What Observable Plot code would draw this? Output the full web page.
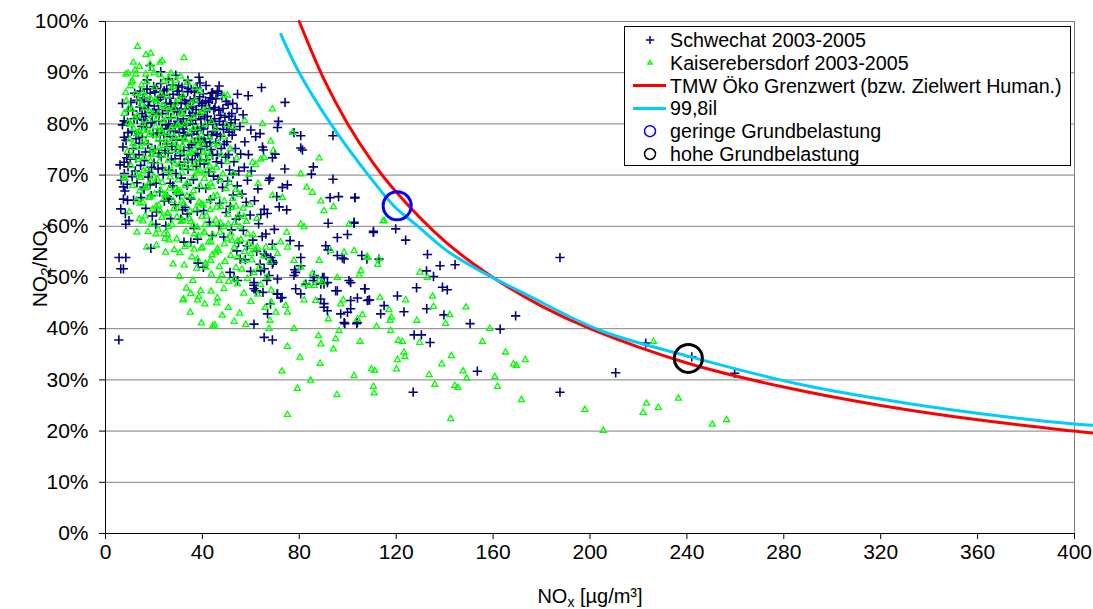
<!DOCTYPE html>
<html><head><meta charset="utf-8">
<script src="https://cdn.jsdelivr.net/npm/d3@7"></script>
<script src="https://cdn.jsdelivr.net/npm/@observablehq/plot@0.6"></script>
<style>body{margin:0;background:#fff;}#chart svg{display:block;}</style>
</head><body><div id="chart"></div>
<script>
const xTicks = [0,40,80,120,160,200,240,280,320,360,400];
const yTicks = [0,10,20,30,40,50,60,70,80,90,100];
const legendLabels = ["Schwechat 2003-2005","Kaiserebersdorf 2003-2005","TMW Öko Grenzwert (bzw. Zielwert Human.)","99,8il","geringe Grundbelastung","hohe Grundbelastung"];

// [NOx µg/m³, NO2/NOx %]
const schwechatOutliers = [
[5.5,37.8],[5.6,53.9],[8.4,53.9],[6.3,51.7],[7.4,51.7],
[18.4,91.4],[22.8,90.2],[38.6,89.1],[46.9,87.4],[46.2,86.4],[44.2,86.1],[54.5,85.8],[58.9,85.5],[64.4,87.1],[74.1,84.2],
[77.8,78.3],[80.6,77.7],[93.9,77.7],[80.6,75.3],[81.3,74.9],[85.8,71.6],[85.0,70.2],[93.9,69.2],[92.7,65.6],[96.2,65.8],[103.0,65.6],[110.6,58.8],[102.6,60.6],[91.9,60.6],[95.7,57.8],[99.9,58.4],
[71.0,79.3],[71.4,80.5],[63.8,78.1],[62.0,77.5],[60.0,78.8],[64.8,75.5],[65.2,74.9],[70.0,74.1],[68.9,73.4],[74.0,71.2],[67.9,69.4],[67.5,69.0],[75.1,68.1],[73.0,67.6],[70.7,65.8],[71.7,63.8],[74.8,63.2],[65.5,63.3],[64.1,62.3],[66.2,58.5],[68.9,56.5],[76.2,57.2],[79.9,56.2],[80.6,52.3],[78.1,51.5],[90.9,56.2],[91.9,55.4],[95.7,54.3],[98.5,53.6],[85.8,49.4],[90.2,48.7],[95.7,47.4],[100.5,49.4],[107.0,47.8],
[7.7,80.6],[9.1,80.3],[7.0,79.8],[9.3,78.3],[7.7,77.4],[7.7,72.5],[8.8,73.4],[9.3,71.6],[7.4,67.7],[8.0,66.9],[7.4,65.3],[9.1,65.1],[11.6,65.1],[6.3,63.4],[8.4,60.4],[9.7,61.1],[18.7,55.7],[20.8,60.4],[24.9,60.1],[14.6,65.6],[15.7,67.6],[18.4,68.1],[26.2,65.3],[29.4,66.6],[26.7,68.4],[31.8,63.2],[33.8,62.4],[31.1,61.4],[32.4,56.9],[35.2,56.9],[38.0,57.5],[40.4,52.0],[38.2,52.8],[51.4,51.0],[53.1,50.0],[54.5,49.4],[55.6,53.6],[54.2,55.2],[65.5,51.7],[66.6,49.4],[68.9,53.3],[61.3,49.0],[62.3,47.4],[71.0,46.8],[72.3,46.0],[78.5,47.8],[82.7,48.7],[80.6,46.8],[88.8,45.8],[90.2,44.9],[101.2,45.5],[104.0,46.0],[109.0,45.6],[115.0,44.5],
[187.6,53.9],[132.9,54.5],[138.1,52.3],[144.3,52.5],[105.8,54.3],[97.8,53.8],[80.6,53.9],[132.5,51.3],[135.4,50.2],[139.1,48.1],[141.1,47.6],[128.4,48.0],[120.5,46.4],[123.2,43.3],[132.6,43.9],[139.7,42.7],[150.5,41.0],[169.3,42.5],[162.9,39.9],[127.4,38.8],[130.4,38.8],[134.0,37.3],[113.6,42.9],[107.1,47.8],[101.2,49.0],[90.2,44.2],[98.8,41.0],[103.7,41.0],[108.1,45.5],[99.9,43.2],[86.1,50.0],[90.2,50.0],[78.5,51.0],[70.9,46.8],[72.9,46.1],[66.9,42.9],[61.3,40.9],[65.5,38.3],[68.9,37.8],[153.5,31.7],[127.0,27.6],[187.6,27.6],[210.6,31.4],[223.0,37.2],[242.0,34.5],[259.7,31.3],
[61.3,47.8],[62.0,47.4],[65.5,54.6],[68.9,52.6],[68.2,53.9],[64.1,51.3],[71.0,49.7],[77.8,50.4],[86.1,50.4],[89.6,50.0],[91.6,49.0],[88.9,48.7],[95.0,47.4],[108.8,45.6],[104.0,41.2],[98.5,41.2],[101.2,43.9],[91.6,43.5],[97.1,42.9],
[102.9,65.6],[102.6,60.8],[110.6,59.0],[119.8,59.5],[123.9,57.3],[112.9,53.6],[107.9,53.6]
];
const schwechatCluster = [
[10.5,84.2],[11.2,82.5],[12.0,86.0],[13.1,80.9],[10.8,78.6],[12.6,77.1],[14.2,83.3],[11.5,75.2],[13.8,74.0],[14.9,79.5],[10.2,73.1],[12.3,70.8],[14.5,71.9],[13.0,68.5],[11.0,69.7],
[15.5,85.1],[16.3,83.0],[17.1,86.8],[18.2,84.4],[19.4,82.2],[15.8,80.7],[16.9,79.3],[18.8,80.2],[19.6,78.1],[15.2,77.4],[17.5,76.0],[18.4,74.6],[16.1,72.8],[19.0,71.5],[17.7,69.6],[15.9,67.2],[18.9,66.0],[16.6,63.5],[19.3,62.0],[17.2,88.6],[19.9,87.3],
[20.4,86.2],[21.6,84.7],[22.8,87.9],[23.9,85.6],[24.7,83.4],[20.8,81.9],[22.1,80.6],[23.5,82.0],[24.9,79.8],[21.3,78.2],[22.6,76.7],[24.1,77.9],[20.5,75.0],[23.0,73.6],[24.6,74.8],[21.7,71.2],[23.8,70.1],[20.9,68.4],[22.4,66.7],[24.3,64.9],[21.1,62.8],
[25.3,86.8],[26.5,85.0],[27.7,87.6],[28.9,84.1],[29.6,86.4],[25.8,82.6],[27.0,81.2],[28.4,82.9],[29.8,80.5],[25.6,79.1],[26.8,77.5],[28.1,78.6],[29.3,76.8],[25.9,74.3],[27.4,75.6],[28.7,73.2],[26.2,71.0],[29.1,70.3],[27.8,67.9],[25.5,65.8],[28.6,64.2],[26.9,61.5],
[30.4,85.7],[31.6,87.2],[32.7,84.6],[33.9,86.3],[34.6,83.0],[30.8,82.4],[32.1,81.0],[33.4,79.7],[34.8,81.6],[30.5,78.3],[31.9,76.9],[33.2,77.7],[34.4,75.4],[30.9,73.8],[32.6,72.5],[34.1,71.1],[31.3,69.4],[33.7,68.0],[30.6,66.1],[32.9,63.7],[34.7,65.5],
[35.4,86.7],[36.6,84.9],[37.8,87.0],[38.9,85.3],[39.7,83.6],[35.9,82.1],[37.2,80.8],[38.5,81.9],[39.5,79.4],[35.6,78.0],[36.9,76.3],[38.2,77.2],[39.3,75.1],[35.8,73.0],[37.5,71.7],[39.0,72.8],[36.3,69.1],[38.7,67.5],[35.2,65.3],[37.9,62.9],[36.5,59.6],
[40.3,85.9],[41.5,87.5],[42.6,84.2],[43.8,86.0],[44.7,82.8],[40.9,81.4],[42.2,79.9],[43.5,80.7],[44.5,78.5],[40.6,77.1],[41.8,75.6],[43.1,76.4],[44.2,73.9],[40.8,72.2],[42.7,70.6],[44.6,69.8],[41.4,67.4],[43.3,65.2],[40.5,63.1],[42.9,60.8],[44.1,58.2],
[45.6,84.9],[46.8,82.7],[48.0,85.6],[49.3,81.3],[50.6,83.8],[51.8,80.2],[45.9,79.1],[47.4,77.6],[48.7,78.9],[50.1,76.5],[52.3,77.8],[53.6,75.2],[46.2,74.0],[47.9,72.3],[49.6,73.5],[51.2,71.0],[53.0,72.6],[46.5,69.2],[48.3,67.6],[50.4,68.8],[52.7,66.1],[54.4,67.9],[47.1,64.5],[49.8,62.7],[51.5,63.9],[53.9,61.4],[46.9,60.1],[48.8,57.9],[52.0,59.3],[54.9,56.8],
[55.8,74.1],[57.3,71.5],[58.6,69.0],[60.2,70.8],[56.4,66.3],[58.1,64.7],[59.7,62.2],[61.5,65.0],[63.2,60.5],[56.9,59.2],[60.8,57.3],[62.4,55.1],[64.7,58.0],[66.3,54.3],[57.7,53.5],[59.9,51.2],[63.8,52.6],[67.5,50.4],[69.2,52.9],[61.2,48.5],[65.0,47.1],[68.1,44.8],[58.5,56.2],[55.3,62.0],[62.9,67.3],[66.8,62.5],[69.7,59.4],
[6.0,72.0],[6.5,69.0],[7.2,75.5],[7.8,70.3],[8.5,76.8],[9.0,68.2],[9.6,74.1],[8.2,62.5],[9.4,82.6],[7.0,84.0],
[31.2,84.0],[33.0,82.9],[35.0,84.5],[36.0,80.0],[37.4,82.8],[38.0,79.0],[40.0,84.0],[41.2,82.6],[42.0,81.5],[43.0,83.0],[44.0,84.8],[45.0,81.0],[46.0,78.0],[47.0,80.5],[48.5,83.0],[50.0,79.5],[51.0,81.5],[52.5,84.0],[53.5,80.8],[49.0,76.0],[36.5,78.6],[39.0,88.0],[34.0,88.5],[29.0,89.5],[26.0,88.8],[41.0,76.5],[43.8,77.8],[38.0,74.2],[45.5,76.3],[32.0,79.0],
[11.8,81.0],[12.9,84.6],[13.6,78.2],[14.4,86.4],[15.1,82.0],[16.0,84.9],[16.7,81.5],[17.6,83.6],[18.5,86.0],[19.2,80.4],[20.1,83.5],[21.0,86.9],[21.9,82.8],[22.7,85.2],[23.3,79.0],[24.2,86.5],[25.0,84.0],[26.1,80.0],[27.0,83.9],[27.9,85.8],[28.7,79.6],[29.5,82.4],[30.2,87.5],[31.0,80.1],[31.8,85.3],[32.4,78.2],[33.3,84.0],[34.2,86.9],[35.1,80.7],[36.0,83.3],[36.8,86.2],[37.7,78.7],[38.6,84.2],[39.4,81.0],[40.4,79.0],[41.3,84.5],[42.2,77.8],[43.2,85.1],[44.3,80.0],[45.2,83.2],[46.3,86.0],[47.5,81.7],[48.6,79.8],[49.8,84.4],[51.0,78.4],[52.1,82.0],[53.2,78.9],[54.3,83.0],[55.5,79.5],[56.8,81.8],
[12.5,73.3],[14.0,76.2],[16.5,74.5],[18.0,70.5],[20.0,72.4],[22.0,74.3],[23.5,71.4],[25.2,76.1],[27.2,73.0],[29.0,75.0],[30.8,71.9],[32.3,74.8],[34.0,73.1],[35.5,75.9],[37.0,73.9],[39.6,76.8],[41.5,73.0],[43.6,75.0],[45.8,72.6],[47.8,75.2],[50.8,74.0],[52.6,70.2],[55.0,70.8],[57.5,76.5],[59.0,74.0]
];
const kaiserOutliers = [
[13.2,95.1],[18.7,93.8],[32.4,92.9],[22.5,92.0],[8.4,89.7],[9.3,89.9],[12.5,89.7],[16.6,89.7],[11.1,88.4],[10.2,87.4],[8.4,86.1],[7.7,82.0],[26.2,88.8],[33.8,88.1],[48.9,85.5],[50.3,85.6],[68.9,82.9],[57.5,80.6],[50.1,79.8],[52.8,79.4],[64.8,80.0],[77.2,78.3],[68.2,76.6],[69.3,74.8],[65.5,73.4],[64.1,73.1],[60.7,72.5],[62.0,72.0],[88.2,73.3],[80.6,70.2],[83.1,67.6],[85.4,66.6],[88.9,64.9],[90.2,63.0],[94.1,63.8],[68.9,66.0],[73.0,65.6],[80.6,60.4],[82.0,59.9],[100.5,60.4],[115.0,61.1],[74.8,58.8],[72.3,56.9],[24.2,58.5],[25.6,58.4],[20.8,58.5],[7.7,69.5],[14.6,69.5],[18.4,65.8],[14.3,64.5],[25.8,62.4],[29.7,63.4],[24.5,66.2],[29.0,67.3],[31.8,61.1],[35.2,60.9],[36.6,58.5],[40.7,58.8],[43.5,56.9],[45.5,54.9],[46.2,55.6],[38.0,53.6],[41.4,52.0],[53.4,49.7],[54.5,48.7],[46.9,49.4],[48.9,47.8],[39.3,47.4],[32.2,45.8],[35.2,46.8],[38.0,45.6],[46.2,46.0],[54.5,53.9],[57.2,53.3],[60.0,54.6],[62.7,55.9],[66.2,55.9],[71.0,54.6],[75.1,55.9],[77.8,53.3],[80.6,52.0],[85.4,50.7],[88.2,53.3],[95.7,50.0],[93.0,55.2],[98.5,54.9],[102.6,55.2],[108.1,53.9],[112.9,53.6],[114.6,61.0],
[226.2,37.5],[236.5,26.4],[223.3,25.4],[221.9,23.6],[228.2,24.6],[197.9,24.2],[205.5,20.1],[250.5,21.3],[256.4,22.2],[171.7,26.1],[161.8,28.7],[160.7,30.6],[165.1,35.4],[173.3,33.9],[168.4,33.1],[169.6,32.8],[155.6,37.5],[158.6,40.0],[148.8,44.2],[147.6,31.7],[149.1,30.3],[142.8,34.7],[142.5,22.4],[138.8,33.1],[135.9,29.1],[133.6,31.0],[144.2,28.9],[145.5,28.5],[140.4,41.0],[142.1,42.7],[135.0,46.3],[135.4,44.3],[129.8,51.0],[132.9,50.0],[128.5,41.6],[129.7,37.3],[123.6,34.5],[123.2,35.4],[120.1,32.1],[120.5,33.9],[120.9,37.7],[122.6,37.5],[117.7,39.6],[117.5,41.6],[118.0,42.2],[117.0,43.7],[113.3,46.1],[123.9,45.6],[111.9,40.4],[110.9,27.4],[110.6,28.7],[109.8,32.1],[111.1,31.8],[102.6,30.8],[95.5,27.1],[84.7,29.9],[79.2,28.3],[75.1,23.2],[88.6,33.2],[80.3,34.4],[72.8,31.7],[75.1,36.5],[88.9,37.0],[87.9,38.6],[94.1,36.0],[95.0,38.0],[96.4,39.6],[105.1,37.5],[104.0,41.9],[106.1,42.7],[92.0,41.9],[86.8,45.5],[82.0,45.6],[97.1,44.8],[98.2,45.6],[75.1,43.2],[74.4,44.5],[67.5,40.0],[67.9,41.6],[77.8,40.0],[68.5,45.1],[70.3,43.2],[82.0,48.7],[84.0,48.4],[86.1,48.4],[88.2,49.4],[89.6,49.0],[112.3,52.5],[105.4,51.3],[104.7,50.4],[108.1,54.1],[45.1,40.7]
];
const kaiserCluster = [
[8.6,84.5],[9.4,80.2],[10.1,77.0],[10.9,82.8],[11.6,79.1],[12.4,85.9],[13.2,81.6],[14.0,78.4],[14.7,83.7],[9.0,74.6],[10.5,71.8],[12.0,75.3],[13.5,73.0],[14.3,69.5],[11.2,67.9],[12.8,65.1],[9.8,62.8],[13.9,61.4],[10.7,88.1],[12.2,90.5],[14.9,87.6],[8.1,69.3],
[15.3,86.0],[16.2,83.1],[17.0,88.2],[17.9,80.8],[18.7,84.9],[19.5,81.9],[15.6,78.7],[16.8,76.3],[18.1,77.9],[19.2,75.1],[15.9,73.4],[17.3,71.2],[18.6,72.7],[19.8,69.8],[16.4,67.5],[18.0,65.6],[19.4,63.3],[15.4,61.0],[17.6,58.9],[19.1,90.8],[16.7,93.5],[18.4,91.7],
[20.3,87.1],[21.2,84.3],[22.0,82.0],[22.9,85.8],[23.7,80.5],[24.6,83.2],[20.7,79.4],[21.8,77.0],[23.1,78.3],[24.3,75.7],[20.5,74.1],[22.2,72.6],[23.6,73.9],[24.8,70.9],[21.4,69.2],[22.8,67.0],[24.1,65.3],[20.9,63.9],[23.3,61.7],[21.7,59.4],[24.5,57.6],[22.5,89.6],[23.4,92.3],
[25.4,85.4],[26.3,82.7],[27.2,86.9],[28.0,81.4],[28.9,84.0],[29.7,79.6],[25.7,78.1],[26.9,76.4],[28.3,77.5],[29.4,74.8],[25.9,72.9],[27.3,71.0],[28.6,72.3],[29.9,69.0],[26.5,67.4],[27.9,65.0],[29.2,66.6],[25.6,62.6],[27.5,60.3],[29.5,61.8],[26.2,57.3],[28.4,55.4],[27.0,89.9],[29.0,88.5],
[30.2,84.8],[31.1,82.1],[32.0,85.5],[32.8,79.9],[33.7,83.1],[34.6,80.6],[30.6,77.4],[31.8,75.8],[33.0,76.9],[34.2,74.2],[30.4,72.0],[31.5,70.5],[32.7,71.6],[34.0,68.7],[30.9,66.8],[32.3,64.4],[33.6,65.9],[34.8,63.0],[31.2,60.9],[33.2,59.0],[34.4,56.4],[30.7,54.8],[32.5,52.4],[33.9,88.0],
[35.3,83.9],[36.2,81.3],[37.1,84.6],[38.0,79.2],[38.8,82.0],[39.6,77.8],[35.6,76.6],[36.8,74.9],[38.1,75.7],[39.3,73.1],[35.4,71.3],[36.6,69.7],[37.9,70.6],[39.1,67.9],[35.9,65.7],[37.3,63.4],[38.6,64.7],[39.8,61.9],[36.2,60.2],[38.3,58.1],[39.5,55.7],[35.7,54.0],[37.6,51.8],[36.9,87.1],[39.0,86.3],
[40.2,82.4],[41.1,79.8],[42.0,83.0],[42.9,77.3],[43.8,80.4],[44.7,75.9],[40.5,74.4],[41.7,72.8],[43.0,73.7],[44.2,70.9],[40.8,69.3],[42.1,67.6],[43.5,68.4],[44.6,65.8],[40.4,64.1],[41.8,62.0],[43.2,63.2],[44.4,60.5],[40.9,58.7],[42.6,56.9],[44.0,54.4],[41.3,52.7],[43.7,50.6],
[45.3,79.0],[46.5,76.2],[47.7,74.0],[48.9,77.4],[50.2,72.6],[51.5,75.1],[52.8,70.3],[54.1,73.3],[45.8,71.5],[47.1,69.0],[48.4,70.2],[49.8,67.3],[51.1,68.5],[52.5,65.4],[53.8,67.1],[46.1,66.0],[47.6,63.8],[49.0,64.9],[50.5,62.3],[52.0,63.6],[53.4,60.7],[54.7,62.0],[45.6,61.2],[47.3,58.8],[48.8,59.9],[50.3,57.5],[51.8,58.6],[53.2,55.8],[54.6,57.1],[46.7,55.2],[49.3,53.1],[51.7,54.3],[53.9,51.9],[48.1,50.5],[50.9,49.2],
[55.5,66.2],[56.8,63.5],[58.2,60.9],[59.6,64.2],[61.0,58.3],[62.5,61.5],[55.9,57.4],[57.4,55.0],[58.9,56.6],[60.4,53.4],[62.0,55.5],[63.6,52.0],[65.2,54.2],[56.3,51.6],[58.6,49.8],[61.3,50.9],[64.0,48.6],[66.7,50.1],[68.4,47.5],[57.1,46.9],[60.0,45.3],[62.8,46.7],[65.9,44.1],[67.8,53.0],[69.3,55.8],[59.2,70.1],[63.0,68.3],
[30.5,50.2],[33.4,47.9],[36.1,49.4],[38.5,46.2],[41.0,44.8],[43.6,47.3],[45.9,45.0],[48.2,42.6],[50.7,44.1],[53.1,41.4],[55.4,43.0],[57.9,40.8],[35.0,43.2],[39.6,41.1],[44.3,40.5],[27.9,52.6],[24.8,54.9],[32.0,45.6],
[9.5,83.0],[10.3,79.9],[11.4,76.1],[12.1,81.2],[12.9,78.0],[13.7,84.8],[14.5,75.5],[15.2,80.0],[15.9,76.9],[16.6,85.4],[17.4,79.0],[18.2,82.4],[18.9,74.0],[19.7,77.8],[20.5,84.7],[21.3,81.0],[22.1,75.3],[22.9,78.9],[23.8,83.6],[24.7,76.9],[25.5,81.3],[26.4,74.7],[27.3,79.2],[28.2,83.0],[29.1,76.1],[30.0,79.9],[30.9,74.6],[31.8,81.8],[32.7,77.0],[33.6,72.9],[34.5,78.4],[35.4,74.4],[36.3,79.1],[37.2,72.3],[38.1,77.0],[39.0,70.9],[40.0,76.2],[41.0,70.6],[42.0,74.6],[43.0,71.7],[44.0,67.7],
[10.9,73.6],[12.6,70.2],[14.1,66.9],[15.7,70.8],[17.2,67.8],[18.8,68.9],[20.3,66.3],[21.9,64.1],[23.5,68.5],[25.1,66.1],[26.7,69.6],[28.3,63.4],[29.9,67.0],[31.5,64.9],[33.1,67.9],[34.7,61.5],[36.3,66.9],[37.9,59.8],[39.5,64.4],[41.1,60.3],[42.7,65.0],[44.3,58.3],[45.9,63.7],[47.5,60.6],[49.1,56.5],[50.7,60.4],[52.3,57.2],[53.9,63.9],[55.5,59.9],[57.1,61.9],[58.7,58.5],[60.3,56.0],
[16.3,62.0],[19.0,60.5],[22.6,62.9],[26.0,59.9],[29.4,57.5],[32.8,56.0],[36.6,55.5],[40.0,55.9],[43.4,53.3],[47.0,52.1],[11.5,92.0],[14.0,91.2],[20.0,89.9],[24.0,88.3],[28.0,87.3],[31.0,89.3],[15.5,64.6],[13.0,58.8],[17.0,55.9],[21.0,56.3]
];
const schwechat = schwechatOutliers.concat(schwechatCluster);
const kaiserebersdorf = kaiserOutliers.concat(kaiserCluster);

const grenzwert = [[80,100],[90,88.9],[100,80],[110,72.7],[120,66.7],[140,57.1],[160,50],[180,44.4],[200,40],[240,33.3],[280,28.6],[320,25],[360,22.2],[400,20],[410,19.5]];
const perzentil = [[72.4,97.5],[80,90],[93,80],[108.5,70],[119,64],[129,60],[141,55.2],[155,51.2],[174,46.6],[204,39.7],[240,34.7],[287,29.1],[330,25.5],[370,22.9],[400,21.4],[410,21.1]];
const geringeGrundbelastung = [[120.4,64.0]];
const hoheGrundbelastung = [[240.6,34.2]];

const FONT = "'Liberation Sans', Arial, sans-serif";
const NAVY = "#000080", GREEN = "#00ff00", RED = "#ff0000", CYAN = "#00ccff";

const svg = Plot.plot({
  width: 1093, height: 609,
  marginLeft: 105, marginRight: 19, marginTop: 21, marginBottom: 76,
  style: {fontFamily: FONT, fontSize: "21px", background: "#fff", color: "#000"},
  x: {domain: [0, 400], ticks: xTicks, tickSize: 6, tickPadding: 5, label: null},
  y: {domain: [0, 100], ticks: yTicks, tickFormat: d => d + "%", tickSize: 6, tickPadding: 11, label: null},
  marks: [
    Plot.ruleY(yTicks.filter(d => d > 0), {stroke: "#808080", strokeWidth: 1}),
    Plot.ruleX([400], {stroke: "#808080", strokeWidth: 1}),
    Plot.dot(schwechat, {x: d => d[0], y: d => d[1], symbol: "plus", r: 3.1, stroke: NAVY, strokeWidth: 1.6}),
    Plot.dot(kaiserebersdorf, {x: d => d[0], y: d => d[1], symbol: "triangle2", r: 2.9, stroke: GREEN, strokeWidth: 1.3}),
    Plot.line(grenzwert, {x: d => d[0], y: d => d[1], stroke: RED, strokeWidth: 3, curve: "catmull-rom"}),
    Plot.line(perzentil, {x: d => d[0], y: d => d[1], stroke: CYAN, strokeWidth: 3, curve: "catmull-rom"}),
    Plot.dot(geringeGrundbelastung, {x: d => d[0], y: d => d[1], r: 14, stroke: "#0000ff", strokeWidth: 3}),
    Plot.dot(hoheGrundbelastung, {x: d => d[0], y: d => d[1], r: 14, stroke: "#000", strokeWidth: 3}),
    Plot.ruleX([0], {stroke: "#000", strokeWidth: 1}),
    Plot.ruleY([0], {stroke: "#000", strokeWidth: 1})
  ]
});

const root = d3.select(svg);
// axis titles
const xl = root.append("text").attr("x", 590).attr("y", 603).attr("text-anchor", "middle")
  .attr("font-family", FONT).attr("font-size", 20).attr("fill", "#000");
xl.append("tspan").text("NO");
xl.append("tspan").attr("font-size", 14).attr("dy", 4).text("x");
xl.append("tspan").attr("dy", -4).text(" [µg/m³]");

const yl = root.append("text").attr("transform", "translate(47,265) rotate(-90)").attr("text-anchor", "middle")
  .attr("font-family", FONT).attr("font-size", 21).attr("fill", "#000");
yl.append("tspan").text("NO");
yl.append("tspan").attr("font-size", 15).attr("dy", 4).text("2");
yl.append("tspan").attr("dy", -4).text("/NO");
yl.append("tspan").attr("font-size", 15).attr("dy", 4).text("x");

// legend
const lg = root.append("g").attr("font-family", FONT).attr("font-size", 19.7).attr("text-anchor", "start");
lg.append("rect").attr("x", 624.5).attr("y", 26.5).attr("width", 446).attr("height", 139)
  .attr("fill", "#fff").attr("stroke", "#000").attr("stroke-width", 1);
const rowY = i => 40 + i * 22.8;
const sx = 650;
lg.append("path").attr("d", d3.symbol(d3.symbolPlus, 24)()).attr("transform", `translate(${sx},${rowY(0)})`)
  .attr("fill", "none").attr("stroke", NAVY).attr("stroke-width", 1.5);
lg.append("path").attr("d", d3.symbol(d3.symbolTriangle2, 12)()).attr("transform", `translate(${sx},${rowY(1)})`)
  .attr("fill", "none").attr("stroke", GREEN).attr("stroke-width", 1.4);
lg.append("line").attr("x1", 633).attr("x2", 666).attr("y1", rowY(2)).attr("y2", rowY(2)).attr("stroke", RED).attr("stroke-width", 3);
lg.append("line").attr("x1", 633).attr("x2", 666).attr("y1", rowY(3)).attr("y2", rowY(3)).attr("stroke", CYAN).attr("stroke-width", 3);
lg.append("circle").attr("cx", sx).attr("cy", rowY(4)).attr("r", 5.5).attr("fill", "none").attr("stroke", "#0000ff").attr("stroke-width", 1.5);
lg.append("circle").attr("cx", sx).attr("cy", rowY(5)).attr("r", 5.5).attr("fill", "none").attr("stroke", "#000").attr("stroke-width", 1.5);
legendLabels.forEach((t, i) => {
  lg.append("text").attr("x", 670).attr("y", rowY(i)).attr("dy", "0.36em").attr("fill", "#000").text(t);
});

document.getElementById("chart").appendChild(svg);
</script>
</body></html>
